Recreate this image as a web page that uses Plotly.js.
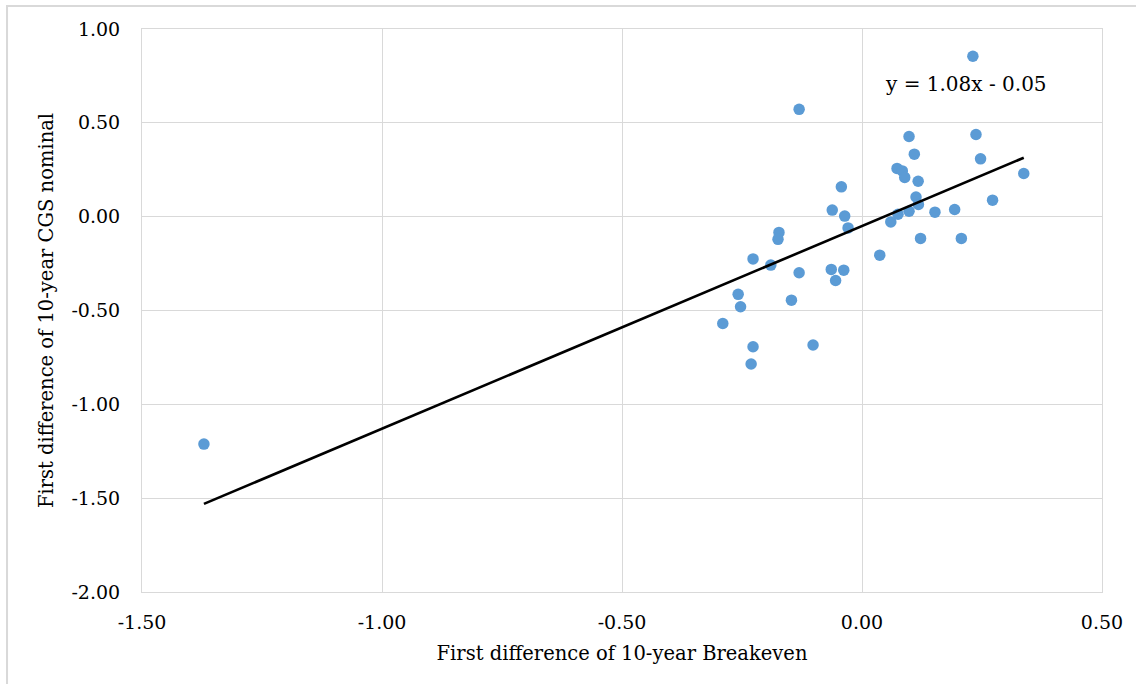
<!DOCTYPE html>
<html>
<head>
<meta charset="utf-8">
<script src="https://cdn.plot.ly/plotly-3.0.1.min.js"></script>
<style>
html,body{margin:0;padding:0;background:#fff;}
#chart{width:1136px;height:684px;}
</style>
</head>
<body>
<div id="chart"></div>
<script>
// First difference of 10-year Breakeven (x) vs first difference of 10-year CGS nominal (y)
const breakevenDiff = [
  -1.371, -0.131, 0.231, 0.2375, 0.098, 0.109, 0.073, 0.084, 0.089, 0.117,
  0.1125, 0.1175, 0.098, 0.075, 0.060, 0.152, 0.193, 0.272, 0.337, 0.247,
  0.122, 0.207, 0.037, -0.043, -0.062, -0.036, -0.029, -0.173, -0.175, -0.227,
  -0.190, -0.131, -0.064, -0.038, -0.055, -0.258, -0.253, -0.290, -0.147, -0.227,
  -0.231, -0.102
];
const cgsNominalDiff = [
  -1.212, 0.572, 0.855, 0.438, 0.427, 0.333, 0.257, 0.244, 0.209, 0.189,
  0.105, 0.065, 0.029, 0.013, -0.028, 0.024, 0.038, 0.088, 0.230, 0.308,
  -0.116, -0.116, -0.205, 0.159, 0.035, 0.003, -0.060, -0.084, -0.121, -0.225,
  -0.258, -0.299, -0.281, -0.285, -0.340, -0.414, -0.480, -0.569, -0.445, -0.693,
  -0.785, -0.684
];
const trendSlope = 1.08;
const trendIntercept = -0.05;
const trendLabel = "y = 1.08x - 0.05";
const xTickVals = [-1.5, -1.0, -0.5, 0, 0.5];
const xTickText = ["-1.50", "-1.00", "-0.50", "0.00", "0.50"];
const yTickVals = [-2.0, -1.5, -1.0, -0.5, 0, 0.5, 1.0];
const yTickText = ["-2.00", "-1.50", "-1.00", "-0.50", "0.00", "0.50", "1.00"];
const xTitle = "First difference of 10-year Breakeven";
const yTitle = "First difference of 10-year CGS nominal";

const xMin = Math.min(...breakevenDiff);
const xMax = Math.max(...breakevenDiff);
const trendX = [xMin, xMax];
const trendY = trendX.map(v => trendSlope * v + trendIntercept);

const FONT = "Georgia, 'DejaVu Serif', serif";
const GRID = "#d9d9d9";

const traces = [
  {
    x: breakevenDiff, y: cgsNominalDiff, type: "scatter", mode: "markers",
    marker: {color: "#5b9bd5", size: 11.5},
    hoverinfo: "x+y", showlegend: false
  },
  {
    x: trendX, y: trendY, type: "scatter", mode: "lines",
    line: {color: "#000000", width: 2.6},
    hoverinfo: "skip", showlegend: false
  }
];

const layout = {
  width: 1136, height: 684,
  margin: {l: 142, r: 34, t: 29, b: 92},
  paper_bgcolor: "#ffffff", plot_bgcolor: "#ffffff",
  font: {family: FONT, size: 19, color: "#000000"},
  showlegend: false,
  xaxis: {
    range: [-1.5, 0.5], tickvals: xTickVals, ticktext: xTickText,
    showgrid: true, gridcolor: GRID, gridwidth: 1,
    zeroline: true, zerolinecolor: GRID, zerolinewidth: 1,
    showline: true, linecolor: GRID, linewidth: 1, mirror: true,
    ticks: "outside", ticklen: 13, tickcolor: "rgba(0,0,0,0)",
    tickfont: {family: FONT, size: 19, color: "#000"},
    title: {text: xTitle, font: {family: FONT, size: 19.5, color: "#000"}, standoff: 14},
    automargin: false, fixedrange: true
  },
  yaxis: {
    range: [-2.0, 1.0], tickvals: yTickVals, ticktext: yTickText,
    showgrid: true, gridcolor: GRID, gridwidth: 1,
    zeroline: true, zerolinecolor: GRID, zerolinewidth: 1,
    showline: true, linecolor: GRID, linewidth: 1, mirror: true,
    ticks: "outside", ticklen: 17, tickcolor: "rgba(0,0,0,0)",
    tickfont: {family: FONT, size: 19, color: "#000"},
    title: {text: yTitle, font: {family: FONT, size: 19.5, color: "#000"}, standoff: 12},
    automargin: false, fixedrange: true
  },
  annotations: [
    {
      x: 0.216, y: 0.706, xref: "x", yref: "y", text: trendLabel,
      showarrow: false, font: {family: FONT, size: 20, color: "#000"},
      xanchor: "center", yanchor: "middle"
    }
  ],
  shapes: [
    {
      type: "rect", xref: "paper", yref: "paper",
      x0: -0.1406, x1: 1.2, y0: -0.3, y1: 1.0409,
      line: {color: GRID, width: 2}, fillcolor: "rgba(0,0,0,0)", layer: "below"
    }
  ]
};

Plotly.newPlot("chart", traces, layout, {displayModeBar: false, staticPlot: true});
</script>
</body>
</html>
